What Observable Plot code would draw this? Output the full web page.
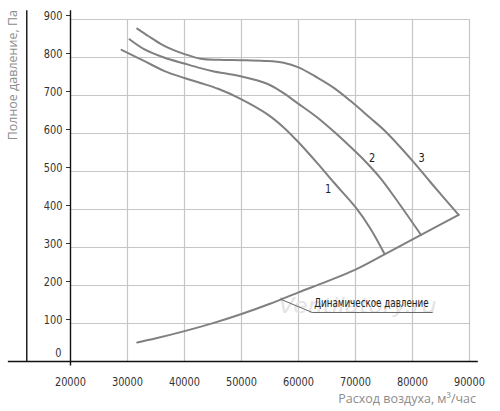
<!DOCTYPE html>
<html>
<head>
<meta charset="utf-8">
<script src="https://cdn.jsdelivr.net/npm/d3@7"></script>
<script src="https://cdn.jsdelivr.net/npm/@observablehq/plot@0.6"></script>
<style>
  html, body { margin: 0; padding: 0; background: #fff; }
  #chart { width: 500px; height: 411px; }
</style>
</head>
<body>
<div id="chart"></div>
<script>
// ---- data ----
const xTicks = [20000, 30000, 40000, 50000, 60000, 70000, 80000, 90000];
const yTicks = [100, 200, 300, 400, 500, 600, 700, 800, 900];
const xGrid = [30000, 40000, 50000, 60000, 70000, 80000, 90000];

const curve1X = [28950, 32900, 36400, 40000, 42800, 46000, 50000, 54500, 57400, 60000, 63300, 66200, 70000, 72600, 75100];
const curve1Y = [820, 791, 765, 746, 733, 717, 690, 651, 616, 577, 522, 471, 406, 350, 283];

const curve2X = [30350, 32900, 36400, 40000, 42800, 45000, 50000, 54500, 57000, 60000, 63300, 66200, 69100, 71700, 74400, 77300, 81500];
const curve2Y = [848, 822, 800, 784, 772, 764, 750, 731, 710, 678, 642, 605, 565, 527, 482, 423, 333];

const curve3X = [31700, 33700, 35800, 38000, 40000, 42800, 46000, 50000, 54000, 57400, 60000, 63300, 66200, 69100, 72500, 75000, 80000, 83200, 88100];
const curve3Y = [876, 856, 836, 820, 809, 797, 794, 793, 791, 786, 774, 747, 720, 686, 642, 609, 528, 471, 386];

const dynX = [31700, 35000, 40000, 45000, 50000, 55000, 60000, 65000, 70000, 75100, 81500, 88100];
const dynY = [50, 61, 80, 101, 125, 152, 182, 211, 242, 282, 333, 386];

const curveNames = ["1", "2", "3"];
const curveLabelX = [65210, 72930, 81580];
const curveLabelY = [454, 537, 537];

const dynLabel = "Динамическое давление";
const leaderX = [56840, 62400, 83450];
const leaderY = [164, 129, 129];

const watermark = "Ventilatory.ru";
const xTitle = "Расход воздуха, м³/час";
const yTitle = "Полное давление, Па";

// ---- build tables ----
const toPts = (xs, ys) => xs.map((x, i) => ({x, y: ys[i]}));
const c1 = toPts(curve1X, curve1Y);
const c2 = toPts(curve2X, curve2Y);
const c3 = toPts(curve3X, curve3Y);
const dyn = toPts(dynX, dynY);
const labels = curveNames.map((t, i) => ({t, x: curveLabelX[i], y: curveLabelY[i]}));
const leader = toPts(leaderX, leaderY);

const narrow = "'Liberation Sans Narrow', 'DejaVu Sans Condensed', 'Roboto', sans-serif";
const grid = "#c6c6c6";
const lineColor = "#808080";

const chart = Plot.plot({
  width: 500,
  height: 411,
  marginLeft: 70,
  marginRight: 31,
  marginTop: 19,
  marginBottom: 50,
  x: {type: "linear", domain: [20000, 90000]},
  y: {type: "linear", domain: [0, 900]},
  style: {fontFamily: narrow, fontSize: "13px", color: "#333", background: "#fff", overflow: "visible"},
  marks: [
    Plot.ruleX(xGrid, {y1: 0, y2: 900, stroke: grid, strokeWidth: 1.2}),
    Plot.ruleY(yTicks, {x1: 20000, x2: 90000, stroke: grid, strokeWidth: 1.2}),
    // faint watermark
    Plot.text([watermark], {x: 56500, y: 145, text: d => d, textAnchor: "start", fontSize: 21, fontStyle: "italic", fontFamily: "'DejaVu Sans', sans-serif", fill: "#e4e4e4", className: "wm"}),
    // axis lines
    Plot.ruleY([0], {x1: 9100, x2: 91550, stroke: "#111", strokeWidth: 1.4}),
    Plot.ruleX([20000], {y1: 923, y2: -12, stroke: "#111", strokeWidth: 1.4}),
    Plot.ruleX([12330], {y1: 923, y2: 0, stroke: "#111", strokeWidth: 1.4}),
    // axes
    Plot.axisY(yTicks, {tickSize: 4, tickPadding: 4, dy: -4, fontSize: 13, fill: "#333", label: null, className: "sq"}),
    Plot.text([0], {x: 20000, y: d => d, text: d => String(d), dx: -9, dy: -9, textAnchor: "end", fontSize: 13, fill: "#333", className: "sq"}),
    Plot.axisX(xTicks, {tickSize: 0, tickPadding: 15, tickFormat: d => String(d), fontSize: 13, fill: "#333", label: null, className: "sq"}),
    // curves
    Plot.line(c1, {x: "x", y: "y", curve: "catmull-rom", stroke: lineColor, strokeWidth: 2}),
    Plot.line(c2, {x: "x", y: "y", curve: "catmull-rom", stroke: lineColor, strokeWidth: 2}),
    Plot.line(c3, {x: "x", y: "y", curve: "catmull-rom", stroke: lineColor, strokeWidth: 2}),
    Plot.line(dyn, {x: "x", y: "y", curve: "catmull-rom", stroke: lineColor, strokeWidth: 2}),
    Plot.line(leader, {x: "x", y: "y", stroke: "#666", strokeWidth: 1}),
    Plot.text(labels, {x: "x", y: "y", text: "t", fontSize: 13, fill: "#222", className: "sq"}),
    Plot.text([dynLabel], {x: leaderX[1], y: leaderY[1], text: d => d, textAnchor: "start", dx: 2, dy: -9, fontSize: 12.5, fill: "#222", className: "sq2"})
  ]
});

// condense the narrow-style labels horizontally around their anchor
function squeeze(sel, s) {
  d3.select(chart).selectAll(sel).each(function () {
    const t = this.getAttribute("transform") || "";
    this.setAttribute("transform", `${t} scale(${s},1)`);
  });
}
squeeze(".sq text", 0.84);
squeeze(".sq2 text", 0.78);
d3.select(chart).selectAll(".wm text").attr("textLength", 158).attr("lengthAdjust", "spacingAndGlyphs");

// axis titles
const svg = d3.select(chart);
svg.append("text")
  .attr("x", 476).attr("y", 403)
  .attr("text-anchor", "end")
  .attr("font-family", "'Open Sans', sans-serif")
  .attr("font-size", 12.5)
  .attr("fill", "#8c8c8c")
  .text(xTitle);
svg.append("text")
  .attr("transform", "translate(17,10) rotate(-90)")
  .attr("text-anchor", "end")
  .attr("font-family", "'Open Sans', sans-serif")
  .attr("font-size", 12.5)
  .attr("fill", "#8c8c8c")
  .text(yTitle);

document.getElementById("chart").appendChild(chart);
</script>
</body>
</html>
